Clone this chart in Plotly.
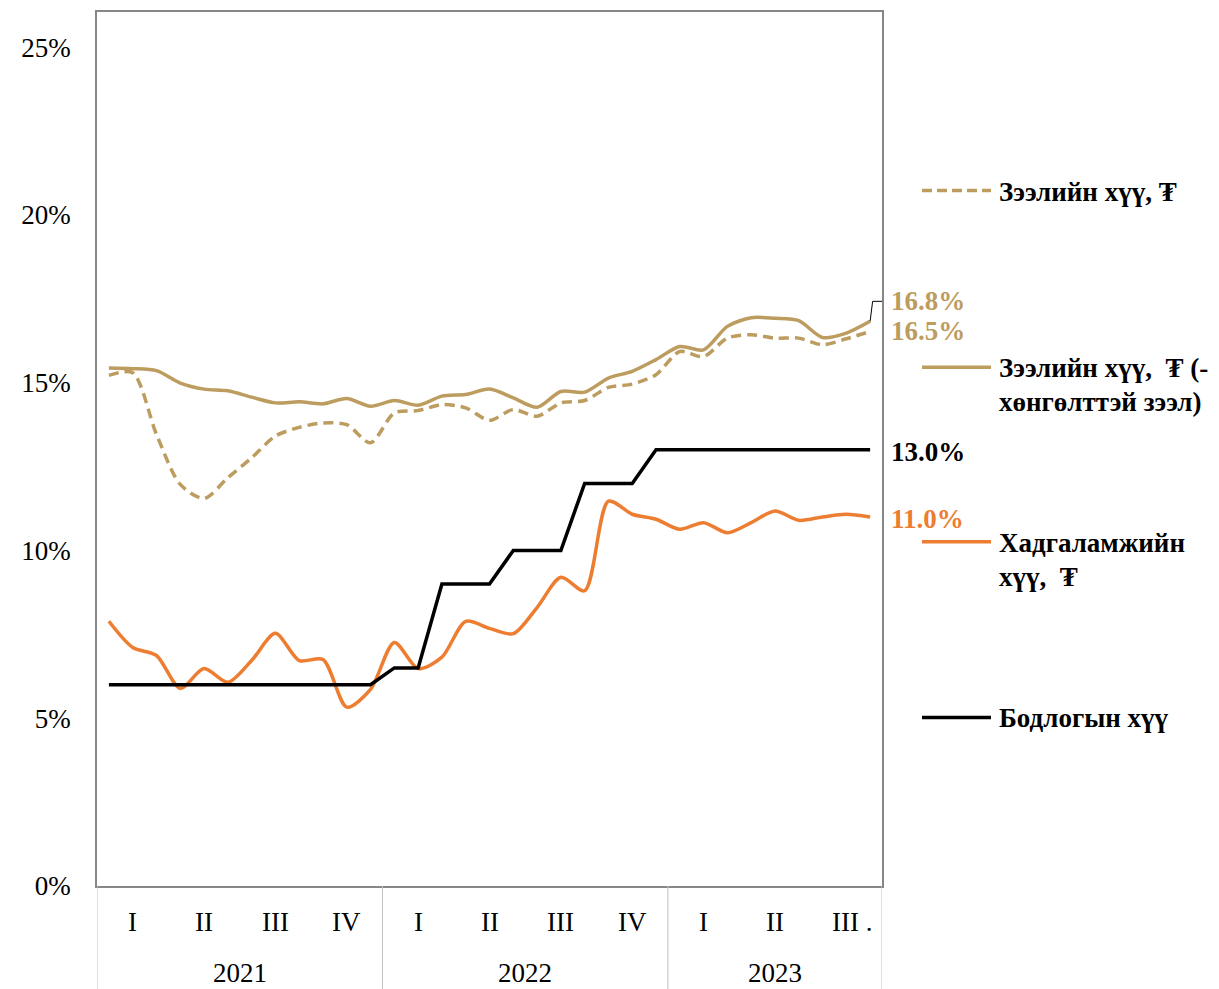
import plotly.graph_objects as go

# ---- data (monthly, Jan 2021 .. Sep 2023) ----
loan_rate = [15.22, 15.30, 13.46, 11.97, 11.55, 12.17, 12.76, 13.41, 13.67, 13.80, 13.75, 13.21,
             14.10, 14.17, 14.35, 14.25, 13.88, 14.20, 14.00, 14.40, 14.47, 14.86, 14.96, 15.24,
             15.93, 15.78, 16.33, 16.43, 16.33, 16.33, 16.13, 16.31, 16.53]
loan_rate_excl = [15.44, 15.42, 15.36, 14.99, 14.81, 14.76, 14.57, 14.40, 14.43, 14.37, 14.53, 14.30,
                  14.47, 14.33, 14.60, 14.65, 14.81, 14.55, 14.27, 14.74, 14.72, 15.14, 15.34, 15.69,
                  16.08, 15.98, 16.68, 16.94, 16.92, 16.85, 16.35, 16.48, 16.83]
deposit_rate = [7.89, 7.11, 6.87, 5.89, 6.48, 6.07, 6.72, 7.53, 6.72, 6.75, 5.33, 5.86,
                7.26, 6.48, 6.82, 7.89, 7.68, 7.52, 8.30, 9.20, 8.80, 11.47, 11.08, 10.93,
                10.63, 10.83, 10.53, 10.83, 11.18, 10.90, 11.00, 11.08, 11.00]
policy_rate = [6, 6, 6, 6, 6, 6, 6, 6, 6, 6, 6, 6,
               6.5, 6.5, 9, 9, 9, 10, 10, 10, 12, 12, 12, 13,
               13, 13, 13, 13, 13, 13, 13, 13, 13]

quarter_labels = ["I", "II", "III", "IV", "I", "II", "III", "IV", "I", "II", "III ."]
year_labels = ["2021", "2022", "2023"]
year_months = [12, 12, 9]

series_names = ["Зээлийн хүү, ₮", "Зээлийн хүү,  ₮ (-хөнгөлттэй зээл)",
                "Хадгаламжийн хүү,  ₮", "Бодлогын хүү"]
legend_lines = [["Зээлийн хүү, ₮"],
                ["Зээлийн хүү,  ₮ (-", "хөнгөлттэй зээл)"],
                ["Хадгаламжийн", "хүү,  ₮"],
                ["Бодлогын хүү"]]

GOLD = "#BD9C5F"
ORANGE = "#ED7D31"
BLACK = "#000000"
FONT = "Liberation Serif"
FS = 27

n = len(policy_rate)
x = list(range(n))

fig = go.Figure()
fig.add_trace(go.Scatter(x=x, y=loan_rate_excl, mode="lines", name=series_names[1],
                         line=dict(color=GOLD, width=3.5, shape="spline", smoothing=0.8)))
fig.add_trace(go.Scatter(x=x, y=loan_rate, mode="lines", name=series_names[0],
                         line=dict(color=GOLD, width=3.5, dash="10px,6px", shape="spline", smoothing=0.8)))
fig.add_trace(go.Scatter(x=x, y=deposit_rate, mode="lines", name=series_names[2],
                         line=dict(color=ORANGE, width=3.5, shape="spline", smoothing=0.8)))
fig.add_trace(go.Scatter(x=x, y=policy_rate, mode="lines", name=series_names[3],
                         line=dict(color=BLACK, width=3.5)))

ann = []
shapes = []

# data labels at the last point
last = n - 1
lab_font = 27
ann.append(dict(x=last, y=loan_rate_excl[-1], xref="x", yref="y", text=f"<b>{loan_rate_excl[-1]:.1f}%</b>",
                showarrow=False, xanchor="left", xshift=19, yshift=20,
                font=dict(family=FONT, size=lab_font, color=GOLD)))
ann.append(dict(x=last, y=loan_rate[-1], xref="x", yref="y", text=f"<b>{loan_rate[-1]:.1f}%</b>",
                showarrow=False, xanchor="left", xshift=19, yshift=0,
                font=dict(family=FONT, size=lab_font, color=GOLD)))
ann.append(dict(x=last, y=policy_rate[-1], xref="x", yref="y", text=f"<b>{policy_rate[-1]:.1f}%</b>",
                showarrow=False, xanchor="left", xshift=19, yshift=-2,
                font=dict(family=FONT, size=lab_font, color=BLACK)))
ann.append(dict(x=last, y=deposit_rate[-1], xref="x", yref="y", text=f"<b>{deposit_rate[-1]:.1f}%</b>",
                showarrow=False, xanchor="left", xshift=19, yshift=-2,
                font=dict(family=FONT, size=lab_font, color=ORANGE)))
# leader line for the 16.8% label
shapes.append(dict(type="path", xref="x", yref="y", xsizemode="pixel", ysizemode="pixel",
                   xanchor=last, yanchor=loan_rate_excl[-1],
                   path="M0,0 L2.5,20 L12.5,20", line=dict(color=BLACK, width=1)))

# quarter labels (centre of each quarter)
for q, lab in enumerate(quarter_labels):
    cx = 3 * q + 1
    if lab.startswith("III ."):
        ann.append(dict(x=cx, y=-0.041, xref="x", yref="paper", text=lab, showarrow=False,
                        xanchor="left", xshift=-16, yanchor="middle",
                        font=dict(family=FONT, size=FS, color=BLACK)))
    else:
        ann.append(dict(x=cx, y=-0.041, xref="x", yref="paper", text=lab, showarrow=False,
                        xanchor="center", yanchor="middle",
                        font=dict(family=FONT, size=FS, color=BLACK)))

# year labels and separators
start = 0
bounds = [-0.5]
for lab, m in zip(year_labels, year_months):
    cx = start + (m - 1) / 2
    ann.append(dict(x=cx, y=-0.0995, xref="x", yref="paper", text=lab, showarrow=False,
                    xanchor="center", yanchor="middle",
                    font=dict(family=FONT, size=FS, color=BLACK)))
    start += m
    bounds.append(start - 0.5)
for b in bounds:
    shapes.append(dict(type="line", xref="x", yref="paper", x0=b, x1=b, y0=0, y1=-0.118,
                       line=dict(color="#BFBFBF", width=1)))

# custom legend on the right (page pixel rows; plot area spans x 97..882, y 10..886)
legend_y = [189, 366, 541, 717]
styles = [dict(color=GOLD, width=3.5, dash="10px,5px"),
          dict(color=GOLD, width=3.5),
          dict(color=ORANGE, width=3.5),
          dict(color=BLACK, width=3.5)]
for yy, st, lines in zip(legend_y, styles, legend_lines):
    shapes.append(dict(type="line", xref="paper", yref="paper",
                       x0=(922 - 97) / 785, x1=(991 - 97) / 785,
                       y0=(886 - yy) / 876, y1=(886 - yy) / 876, line=st))
    for k, t in enumerate(lines):
        ann.append(dict(x=(997 - 97) / 785, y=(886 - (yy + 1 + 34 * k)) / 876, xref="paper", yref="paper",
                        text=f"<b>{t}</b>", showarrow=False, xanchor="left", yanchor="middle",
                        font=dict(family=FONT, size=FS, color=BLACK)))

# page has an 8px body margin, so the figure is 8px smaller than the window
fig.update_layout(
    width=1211, height=981,
    margin=dict(l=89, r=337, t=2, b=103),
    paper_bgcolor="white", plot_bgcolor="white",
    showlegend=False,
    annotations=ann, shapes=shapes,
    font=dict(family=FONT, size=FS, color=BLACK),
)
fig.update_xaxes(range=[-0.5, n - 0.5], showticklabels=False, ticks="", showgrid=False, zeroline=False,
                 showline=True, linecolor="#878787", linewidth=1.5, mirror=True)
fig.update_yaxes(range=[0, 26.05], tickvals=[0, 5, 10, 15, 20, 25],
                 ticktext=["0%", "5%", "10%", "15%", "20%", "25%"],
                 ticks="", ticklabelstandoff=19, showgrid=False, zeroline=False,
                 showline=True, linecolor="#878787", linewidth=1.5, mirror=True,
                 tickfont=dict(family=FONT, size=FS, color=BLACK))

fig.write_html("out.html")
